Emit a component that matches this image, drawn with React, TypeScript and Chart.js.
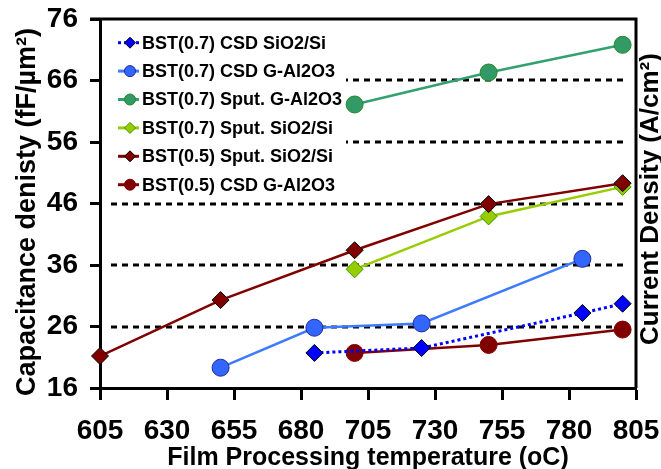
import React, { useEffect, useRef } from 'react';
import { Chart, registerables } from 'chart.js';

Chart.register(...registerables);

// ---- data ----
const xMin = 605;
const xMax = 805;
const xStep = 25;
const yMin = 16;
const yMax = 76;
const yStep = 10;
const dashedGridValues = [26, 36, 46, 56, 66];

const seriesNames = [
  'BST(0.7) CSD SiO2/Si',
  'BST(0.7) CSD G-Al2O3',
  'BST(0.7) Sput. G-Al2O3',
  'BST(0.7) Sput. SiO2/Si',
  'BST(0.5) Sput. SiO2/Si',
  'BST(0.5) CSD G-Al2O3',
];

const csdSiO2X = [685, 725, 785, 800];
const csdSiO2Y = [21.7, 22.5, 28.2, 29.7];

const csdAl2O3X = [650, 685, 725, 785];
const csdAl2O3Y = [19.3, 25.8, 26.5, 37.0];

const sputAl2O3X = [700, 750, 800];
const sputAl2O3Y = [62.1, 67.3, 71.8];

const sputSiO2X = [700, 750, 800];
const sputSiO2Y = [35.3, 43.9, 48.7];

const bst05SputX = [605, 650, 700, 750, 800];
const bst05SputY = [21.2, 30.3, 38.4, 45.9, 49.3];

const bst05CsdX = [700, 750, 800];
const bst05CsdY = [21.7, 23.0, 25.5];

const xTitle = 'Film Processing temperature (oC)';
const yTitle = 'Capacitance denisty (fF/\u00B5m\u00B2)';
const y2Title = 'Current Density (A/cm\u00B2)';

// ---- styles ----
const FONT = "'Liberation Sans', Arial, sans-serif";

type Style = {
  line: string;
  fill: string;
  border: string;
  shape: 'circle' | 'rectRot';
  dash: number[];
};

const styles: Style[] = [
  { line: '#0000FF', fill: '#0000FF', border: '#000000', shape: 'rectRot', dash: [3, 3] },
  { line: '#3D7BFF', fill: '#3366FF', border: '#1F2A99', shape: 'circle', dash: [] },
  { line: '#33A070', fill: '#339966', border: '#228B22', shape: 'circle', dash: [] },
  { line: '#99CC00', fill: '#99CC00', border: '#339900', shape: 'rectRot', dash: [] },
  { line: '#800000', fill: '#800000', border: '#000000', shape: 'rectRot', dash: [] },
  { line: '#800000', fill: '#800000', border: '#800000', shape: 'circle', dash: [] },
];

const seriesData = [
  [csdSiO2X, csdSiO2Y],
  [csdAl2O3X, csdAl2O3Y],
  [sputAl2O3X, sputAl2O3Y],
  [sputSiO2X, sputSiO2Y],
  [bst05SputX, bst05SputY],
  [bst05CsdX, bst05CsdY],
];

const drawOrder = [0, 1, 2, 4, 3, 5];

function drawMarker(ctx: CanvasRenderingContext2D, s: Style, x: number, y: number, r: number) {
  ctx.beginPath();
  if (s.shape === 'circle') {
    ctx.arc(x, y, r, 0, Math.PI * 2);
  } else {
    ctx.moveTo(x - r, y);
    ctx.lineTo(x, y - r);
    ctx.lineTo(x + r, y);
    ctx.lineTo(x, y + r);
    ctx.closePath();
  }
  ctx.fillStyle = s.fill;
  ctx.fill();
  ctx.lineWidth = 1;
  ctx.strokeStyle = s.border;
  ctx.stroke();
}

const framePlugin = {
  id: 'frameAndGrid',
  beforeDatasetsDraw(chart: any) {
    const { ctx, chartArea, scales } = chart;
    ctx.save();
    // dashed grid
    ctx.strokeStyle = '#000';
    ctx.lineWidth = 3;
    ctx.setLineDash([6, 5]);
    for (const v of dashedGridValues) {
      const y = Math.round(scales.y.getPixelForValue(v));
      ctx.beginPath();
      ctx.moveTo(chartArea.left + 11, y);
      ctx.lineTo(chartArea.right - 8, y);
      ctx.stroke();
    }
    ctx.setLineDash([]);
    // top and right frame
    ctx.beginPath();
    ctx.moveTo(chartArea.left - 10, chartArea.top);
    ctx.lineTo(chartArea.right, chartArea.top);
    ctx.lineTo(chartArea.right, chartArea.bottom);
    ctx.stroke();

    // legend
    ctx.fillStyle = '#fff';
    ctx.fillRect(chartArea.left + 8, chartArea.top + 5, 238, 176);
    const lx0 = chartArea.left + 18;
    const lx1 = chartArea.left + 39;
    const mx = chartArea.left + 30;
    const tx = chartArea.left + 42;
    for (let i = 0; i < seriesNames.length; i++) {
      const s = styles[i];
      const y = chartArea.top + 23.7 + i * 28.4;
      ctx.beginPath();
      ctx.setLineDash(s.dash);
      ctx.strokeStyle = s.line;
      ctx.lineWidth = 3;
      ctx.moveTo(lx0, y);
      ctx.lineTo(lx1, y);
      ctx.stroke();
      ctx.setLineDash([]);
      drawMarker(ctx, s, mx, y, 5.5);
      ctx.fillStyle = '#000';
      ctx.font = `bold 18px ${FONT}`;
      ctx.textAlign = 'left';
      ctx.textBaseline = 'middle';
      ctx.fillText(seriesNames[i], tx, y + 1);
    }
    ctx.restore();
  },
  afterDraw(chart: any) {
    const { ctx, chartArea } = chart;
    ctx.save();
    ctx.fillStyle = '#000';
    ctx.textAlign = 'center';
    ctx.textBaseline = 'middle';
    // left title
    ctx.save();
    ctx.font = `bold 27px ${FONT}`;
    ctx.translate(28, 212);
    ctx.rotate(-Math.PI / 2);
    ctx.fillText(yTitle, 0, 0);
    ctx.restore();
    // right title
    ctx.save();
    ctx.font = `bold 26px ${FONT}`;
    ctx.translate(chartArea.right + 15, 199);
    ctx.rotate(-Math.PI / 2);
    ctx.fillText(y2Title, 0, 0);
    ctx.restore();
    ctx.restore();
  },
};

const W = 661;
const H = 469;
const AREA_LEFT = 100;
const AREA_RIGHT = 636;
const AREA_TOP = 19;
const AREA_BOTTOM = 388;

export default function App() {
  const ref = useRef<HTMLCanvasElement | null>(null);

  useEffect(() => {
    document.body.style.margin = '0';
    document.body.style.overflow = 'hidden';
    if (!ref.current) return;
    const datasets = seriesData.map(([xs, ys], i) => {
      const s = styles[i];
      return {
        label: seriesNames[i],
        data: xs.map((x, k) => ({ x, y: ys[k] })),
        borderColor: s.line,
        backgroundColor: s.fill,
        borderWidth: s.dash.length ? 3 : 2.5,
        borderDash: s.dash,
        pointStyle: s.shape,
        pointRadius: 8.5,
        pointBackgroundColor: s.fill,
        pointBorderColor: s.border,
        pointBorderWidth: 1,
        tension: 0,
        fill: false,
        clip: false as const,
        order: drawOrder[i],
      };
    });

    const chart = new Chart(ref.current, {
      type: 'line',
      data: { datasets },
      options: {
        animation: false,
        responsive: false,
        maintainAspectRatio: false,
        devicePixelRatio: 1,
        layout: { padding: { top: AREA_TOP, right: W - AREA_RIGHT, left: 0, bottom: 0 } },
        plugins: {
          legend: { display: false },
          tooltip: { enabled: false },
        },
        scales: {
          x: {
            type: 'linear',
            min: xMin,
            max: xMax,
            afterFit: (scale: any) => {
              scale.height = H - AREA_BOTTOM;
              scale.paddingLeft = 0;
              scale.paddingRight = 0;
            },
            ticks: {
              stepSize: xStep,
              color: '#000',
              padding: 14,
              maxRotation: 0,
              font: { family: FONT, size: 28, weight: 'bold' },
            },
            grid: {
              drawOnChartArea: false,
              drawTicks: true,
              tickLength: 12,
              tickWidth: 3,
              tickColor: '#000',
            },
            border: { display: true, color: '#000', width: 3 },
            title: {
              display: true,
              text: xTitle,
              color: '#000',
              padding: { top: 0, bottom: 5 },
              font: { family: FONT, size: 25, weight: 'bold', lineHeight: 0.5 },
            },
          },
          y: {
            type: 'linear',
            min: yMin,
            max: yMax,
            afterFit: (scale: any) => {
              scale.width = AREA_LEFT;
              scale.paddingTop = 0;
              scale.paddingBottom = 0;
            },
            ticks: {
              stepSize: yStep,
              color: '#000',
              padding: 12,
              font: { family: FONT, size: 28, weight: 'bold' },
            },
            grid: {
              drawOnChartArea: false,
              drawTicks: true,
              tickLength: 10,
              tickWidth: 3,
              tickColor: '#000',
            },
            border: { display: true, color: '#000', width: 3 },
          },
        },
      },
      plugins: [framePlugin],
    });
    return () => chart.destroy();
  }, []);

  return (
    <div style={{ width: W, height: H }}>
      <canvas ref={ref} width={W} height={H} style={{ display: 'block', width: W, height: H }} />
    </div>
  );
}
